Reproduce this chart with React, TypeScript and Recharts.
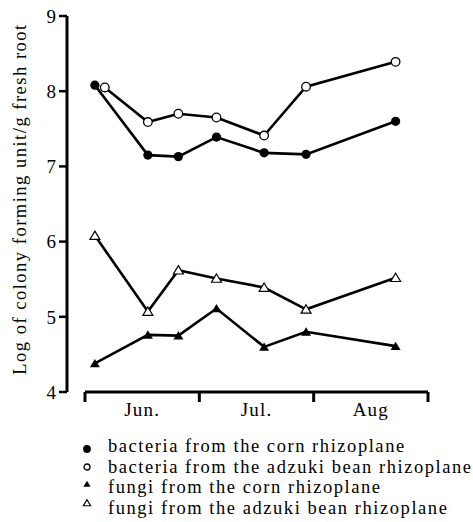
import React from "react";
import { LineChart, Line, XAxis, YAxis, ReferenceLine, Label } from "recharts";

// sampling days counted from 1 June
const days = [2.6, 16.5, 24.5, 34.5, 47, 58, 81.5];
const adzukiBacteriaDays = [5.2, 16.5, 24.5, 34.5, 47, 58, 81.5];

const bacteriaCorn = [8.08, 7.15, 7.13, 7.39, 7.18, 7.16, 7.6];
const bacteriaAdzuki = [8.05, 7.59, 7.7, 7.65, 7.41, 8.06, 8.39];
const fungiCorn = [4.38, 4.76, 4.75, 5.11, 4.6, 4.8, 4.61];
const fungiAdzuki = [6.08, 5.07, 5.62, 5.51, 5.39, 5.1, 5.52];

const months = ["Jun.", "Jul.", "Aug"];
const monthMid = [15, 45, 75];
const monthEdges = [0, 30, 60, 90];
const yTicks = [4, 5, 6, 7, 8, 9];

const seriesNames = [
  "bacteria from the corn rhizoplane",
  "bacteria from the adzuki bean rhizoplane",
  "fungi from the corn rhizoplane",
  "fungi from the adzuki bean rhizoplane",
];

const FONT = "'Liberation Serif', 'DejaVu Serif', serif";

const toRows = (xs: number[], ys: number[]) => xs.map((d, i) => ({ day: d, v: ys[i] }));

const Marker = ({ kind, cx, cy, s = 1 }: { kind: number; cx: number; cy: number; s?: number }) => {
  if (kind === 0) return <circle cx={cx} cy={cy} r={4.6 * s} fill="#000" />;
  if (kind === 1) return <circle cx={cx} cy={cy} r={4.3 * s} fill="#fff" stroke="#000" strokeWidth={1.3} />;
  const h = 4.5 * s;
  const w = 5 * s;
  const d = `M${cx},${cy - h} L${cx + w},${cy + h * 0.85} L${cx - w},${cy + h * 0.85} Z`;
  if (kind === 2) return <path d={d} fill="#000" />;
  return <path d={d} fill="#fff" stroke="#000" strokeWidth={1.2} />;
};

const dotFor = (kind: number) => (p: any) => (
  <Marker key={`d-${kind}-${p.index}`} kind={kind} cx={p.cx} cy={p.cy} />
);

const MonthTick = (props: any) => {
  const { x, y, payload } = props;
  const v = payload.value;
  if (monthEdges.includes(v)) {
    return <line x1={x} y1={y} x2={x} y2={y + 10} stroke="#000" strokeWidth={3} />;
  }
  const i = monthMid.indexOf(v);
  return (
    <text x={x} y={y + 24} textAnchor="middle" fontSize={19} fill="#000" fontFamily={FONT} letterSpacing={1.2}>
      {months[i]}
    </text>
  );
};

const YLabel = ({ viewBox }: any) => {
  const cx = viewBox.x + 20;
  const cy = viewBox.y + viewBox.height / 2 - 5;
  return (
    <text
      x={cx}
      y={cy}
      transform={`rotate(-90, ${cx}, ${cy})`}
      textAnchor="middle"
      dominantBaseline="central"
      fontSize={18.5}
      fontFamily={FONT}
      letterSpacing={1.5}
      fill="#000"
    >
      Log of colony forming unit/g fresh root
    </text>
  );
};

const series = [
  { data: toRows(days, bacteriaCorn), kind: 0 },
  { data: toRows(adzukiBacteriaDays, bacteriaAdzuki), kind: 1 },
  { data: toRows(days, fungiCorn), kind: 2 },
  { data: toRows(days, fungiAdzuki), kind: 3 },
];

const legendY = [447, 467.5, 488, 508.5];
const markerY = [449, 467, 484, 503];

export default function App() {
  return (
    <div style={{ position: "absolute", left: 0, top: 0, width: 473, height: 522, background: "#fff", fontFamily: FONT }}>
      <LineChart width={473} height={522} margin={{ top: 16, right: 45, left: 0, bottom: 0 }}>
        <XAxis
          dataKey="day"
          type="number"
          domain={[-4.72, 90]}
          ticks={[0, 15, 30, 45, 60, 75, 90]}
          interval={0}
          axisLine={false}
          tickLine={false}
          tickSize={0}
          tickMargin={0}
          height={130}
          tick={<MonthTick />}
          allowDuplicatedCategory={false}
        />
        <YAxis
          domain={[4, 9]}
          ticks={yTicks}
          width={67}
          axisLine={{ stroke: "#000", strokeWidth: 3 }}
          tickLine={{ stroke: "#000", strokeWidth: 2.5 }}
          tickSize={8}
          tickMargin={3}
          tick={{ fill: "#000", fontSize: 19, fontFamily: FONT }}
        >
          <Label content={<YLabel />} />
        </YAxis>
        <ReferenceLine
          segment={[{ x: 0, y: 4 }, { x: 90, y: 4 }]}
          stroke="#000"
          strokeWidth={3}
          ifOverflow="visible"
        />
        {series.map((s) => (
          <Line
            key={s.kind}
            data={s.data}
            dataKey="v"
            stroke="#000"
            strokeWidth={2.6}
            dot={dotFor(s.kind)}
            activeDot={false}
            isAnimationActive={false}
          />
        ))}
      </LineChart>
      {seriesNames.map((name, i) => (
        <React.Fragment key={name}>
          <svg style={{ position: "absolute", left: 80, top: markerY[i] - 7 }} width={14} height={14}>
            <Marker kind={i} cx={7} cy={7} s={i === 0 ? 0.85 : i === 1 ? 0.7 : 0.72} />
          </svg>
          <div
            style={{
              position: "absolute",
              left: 108,
              top: legendY[i] - 11,
              lineHeight: "20px",
              fontSize: 18.5,
              letterSpacing: 1.55,
              whiteSpace: "nowrap",
              color: "#000",
            }}
          >
            {name}
          </div>
        </React.Fragment>
      ))}
    </div>
  );
}
